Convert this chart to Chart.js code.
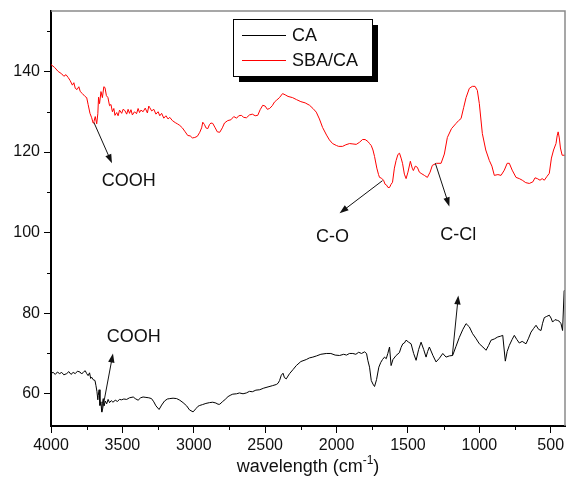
<!DOCTYPE html>
<html>
<head>
<meta charset="utf-8">
<script src="https://cdn.jsdelivr.net/npm/chart.js@4.4.0/dist/chart.umd.min.js"></script>
<style>
  body { margin: 0; background: #fff; }
  #wrap { width: 566px; height: 490px; }
</style>
</head>
<body>
<div id="wrap"><canvas id="ftirChart" width="566" height="490"></canvas></div>
<script>
// FTIR spectra, wavenumber (cm-1) vs transmittance
const waveSBA = [
  4000,3975,3950,3925,3910,3895,3880,3867,3850,3840,
  3830,3818,3805,3795,3780,3762,3750,3740,3727,3715,
  3705,3699,3690,3680,3672,3667,3660,3650,3640,3630,
  3622,3612,3601,3590,3580,3570,3560,3552,3540,3530,
  3520,3505,3495,3483,3470,3460,3450,3440,3430,3415,
  3401,3390,3380,3370,3355,3340,3325,3315,3308,3295,
  3280,3265,3250,3238,3225,3210,3195,3180,3168,3150,
  3130,3115,3098,3080,3060,3042,3025,3010,2993,2975,
  2958,2945,2937,2925,2915,2902,2890,2880,2867,2850,
  2835,2818,2800,2785,2762,2740,2720,2700,2685,2667,
  2650,2631,2610,2590,2570,2552,2535,2517,2500,2485,
  2469,2450,2435,2422,2400,2378,2360,2340,2308,2280,
  2250,2220,2189,2165,2142,2120,2098,2070,2050,2028,
  2000,1985,1958,1935,1909,1885,1862,1840,1818,1800,
  1780,1769,1757,1745,1734,1718,1706,1699,1685,1671,
  1660,1650,1640,1629,1618,1608,1595,1583,1570,1559,
  1548,1538,1525,1513,1500,1483,1470,1462,1448,1434,
  1420,1408,1385,1364,1345,1329,1300,1268,1245,1224,
  1195,1163,1145,1128,1110,1093,1070,1049,1030,1014,
  1000,979,955,930,912,895,870,848,825,805,
  790,770,743,720,699,675,650,625,610,594,
  575,560,545,525,510,495,480,463,455,448,
  440,432,420,400
];
const transSBA = [
  141.7,141.0,140.0,139.4,138.8,139.2,138.5,137.8,136.6,137.2,
  135.8,135.5,136.2,135.0,134.5,133.8,133.5,131.8,129.6,128.5,
  127.2,127.6,128.8,127.0,129.5,133.6,132.0,135.0,133.5,136.2,
  136.0,134.0,133.5,131.5,131.8,130.0,130.8,129.1,129.8,129.0,
  130.4,129.6,130.6,130.3,129.4,130.6,129.6,130.5,129.2,130.0,
  129.5,130.8,129.8,130.4,130.0,130.9,129.7,131.4,131.0,130.2,
  130.6,129.4,130.0,129.0,129.6,128.4,129.0,128.2,128.6,127.8,
  127.3,127.0,126.6,126.0,125.0,124.1,124.0,123.5,123.6,123.9,
  124.9,126.0,127.4,126.8,126.0,125.8,126.8,127.2,127.1,126.0,
  125.0,124.9,126.0,127.2,127.8,128.0,128.8,128.4,129.0,129.1,
  128.6,128.5,129.2,129.4,129.0,129.1,130.5,131.6,131.4,130.6,
  130.8,131.5,132.4,132.8,133.5,134.5,134.2,133.8,133.5,133.0,
  132.5,132.2,131.6,130.8,129.9,128.2,126.1,124.2,123.0,122.1,
  121.6,121.4,121.4,121.8,122.1,122.0,121.9,122.4,123.1,123.1,
  122.6,122.1,121.6,120.5,118.9,116.0,114.4,113.7,113.5,113.0,
  112.0,111.8,111.2,111.2,112.0,112.5,116.0,117.9,119.4,119.7,
  118.5,117.2,114.5,113.4,115.0,117.7,116.0,115.4,116.5,116.2,
  115.0,114.7,114.2,113.7,115.0,116.7,117.2,117.2,119.5,123.6,
  125.8,127.1,127.8,128.3,131.0,133.5,135.8,136.3,136.3,135.3,
  132.0,124.6,120.5,117.9,116.5,114.2,114.4,114.2,115.5,117.2,
  117.2,115.5,113.7,113.4,113.0,112.4,112.2,112.6,113.6,113.4,
  113.0,113.4,113.0,114.0,114.7,118.5,120.5,122.1,124.0,125.0,
  123.5,121.0,119.2,119.2
];
const waveCA = [
  4000,3985,3970,3955,3940,3925,3910,3890,3875,3860,
  3845,3830,3815,3797,3785,3770,3760,3750,3740,3730,
  3722,3715,3705,3692,3685,3678,3672,3669,3663,3657,
  3650,3645,3640,3634,3628,3620,3610,3600,3590,3578,
  3566,3550,3535,3520,3506,3490,3470,3450,3424,3410,
  3390,3372,3355,3335,3315,3296,3280,3265,3243,3225,
  3205,3185,3168,3145,3120,3098,3075,3050,3030,3005,
  2985,2970,2958,2940,2915,2890,2867,2845,2830,2818,
  2800,2780,2760,2740,2727,2700,2680,2655,2632,2610,
  2590,2565,2538,2510,2480,2450,2422,2410,2399,2387,
  2375,2365,2352,2340,2329,2305,2282,2250,2212,2190,
  2166,2140,2110,2072,2040,2010,1979,1950,1930,1910,
  1886,1865,1845,1825,1804,1790,1781,1769,1757,1745,
  1734,1720,1704,1690,1678,1664,1652,1641,1629,1618,
  1605,1583,1560,1548,1536,1525,1513,1495,1478,1460,
  1443,1425,1408,1390,1373,1362,1350,1325,1303,1280,
  1256,1233,1210,1187,1163,1140,1115,1093,1070,1047,
  1025,1000,975,953,935,918,895,871,850,836,
  818,805,790,770,755,738,720,700,673,655,
  638,620,603,585,568,557,545,528,510,498,
  487,470,452,440,428,417,406,400
];
const transCA = [
  65.1,65.3,64.8,65.4,65.0,65.3,64.7,65.0,65.5,64.8,
  65.3,65.0,65.6,65.4,64.9,65.5,65.7,65.0,64.5,65.2,
  63.8,64.1,63.5,63.3,62.0,60.5,58.5,59.6,61.0,57.1,
  58.0,55.5,57.5,58.8,57.0,58.2,57.5,58.6,57.8,58.3,
  57.9,58.4,58.1,58.6,58.5,58.7,58.6,59.0,59.2,58.8,
  58.4,59.0,59.2,59.1,59.0,58.8,58.0,57.0,56.1,57.2,
  58.2,58.7,58.8,58.9,58.8,58.4,57.8,57.0,56.0,55.5,
  56.3,56.9,57.1,57.3,57.6,57.8,57.9,57.7,57.4,57.4,
  58.0,58.6,59.3,59.7,59.9,60.0,60.2,60.0,60.2,60.6,
  60.5,60.9,61.0,61.4,61.7,62.0,62.3,62.6,63.3,64.6,
  65.1,64.0,63.7,64.4,65.0,66.0,67.0,68.0,68.5,68.9,
  69.1,69.4,69.8,70.0,70.0,69.6,69.5,69.8,69.6,70.0,
  70.0,69.8,70.3,70.0,70.4,70.0,68.3,66.6,63.3,62.4,
  61.8,63.5,66.6,67.8,68.5,69.1,68.7,70.0,71.6,67.0,
  68.5,69.5,70.2,71.5,72.4,72.6,73.3,72.8,72.4,70.0,
  68.3,71.0,72.8,71.0,69.1,70.5,71.6,69.5,67.9,68.8,
  70.0,69.1,69.4,69.5,71.8,74.0,76.0,77.4,76.6,74.9,
  73.8,72.4,71.6,70.8,72.0,73.3,73.6,74.1,74.3,74.5,
  68.1,70.5,72.0,73.5,74.5,73.5,72.6,73.0,72.4,73.8,
  75.3,76.2,77.0,76.0,75.7,77.5,78.9,79.2,79.5,78.8,
  77.8,78.4,78.2,78.0,77.4,75.7,85.6,85.6
];

const xTicks = [4000, 3500, 3000, 2500, 2000, 1500, 1000, 500];
const xMinorTicks = [3750, 3250, 2750, 2250, 1750, 1250, 750];
const yTicks = [60, 80, 100, 120, 140];
const yMinorTicks = [70, 90, 110, 130, 150];
const seriesLabels = ['CA', 'SBA/CA'];

// band assignments: label centre and arrow (tail -> head), in data units
const bandLabels = [
  { text: 'COOH', x: 3455, y: 112.7 },
  { text: 'C-O', x: 2028, y: 98.8 },
  { text: 'C-Cl', x: 1147, y: 99.3 },
  { text: 'COOH', x: 3420, y: 74.2 }
];
const bandArrows = [
  { x1: 3699, y1: 127.3, x2: 3573, y2: 117.2 },
  { x1: 1678, y1: 112.9, x2: 1979, y2: 104.8 },
  { x1: 1308, y1: 117.2, x2: 1210, y2: 106.5 },
  { x1: 3643, y1: 55.4, x2: 3566, y2: 70.0 },
  { x1: 1189, y1: 69.5, x2: 1147, y2: 84.4 }
];

const FONT = '"Liberation Sans", Arial, sans-serif';

function toPoints(xs, ys) {
  return xs.map((x, i) => ({ x: x, y: ys[i] }));
}

function drawArrow(ctx, x1, y1, x2, y2) {
  const ang = Math.atan2(y2 - y1, x2 - x1);
  const len = 9, half = 3.2;
  ctx.beginPath();
  ctx.moveTo(x1, y1);
  ctx.lineTo(x2 - Math.cos(ang) * len * 0.8, y2 - Math.sin(ang) * len * 0.8);
  ctx.stroke();
  ctx.beginPath();
  ctx.moveTo(x2, y2);
  ctx.lineTo(x2 - Math.cos(ang) * len - Math.sin(ang) * half, y2 - Math.sin(ang) * len + Math.cos(ang) * half);
  ctx.lineTo(x2 - Math.cos(ang) * len + Math.sin(ang) * half, y2 - Math.sin(ang) * len - Math.cos(ang) * half);
  ctx.closePath();
  ctx.fill();
}

// frame, minor ticks, legend, band labels and the axis title
const decorations = {
  id: 'decorations',
  afterDraw(chart) {
    const { ctx, chartArea: a } = chart;
    const xs = chart.scales.x, ys = chart.scales.y;
    ctx.save();

    // grey top / right frame
    ctx.strokeStyle = '#8a8a8a';
    ctx.lineWidth = 1.5;
    ctx.beginPath();
    ctx.moveTo(a.left, a.top);
    ctx.lineTo(a.right, a.top);
    ctx.lineTo(a.right, a.bottom);
    ctx.stroke();

    // minor ticks
    ctx.strokeStyle = '#000';
    ctx.lineWidth = 1;
    xMinorTicks.forEach(v => {
      const px = Math.round(xs.getPixelForValue(v)) + 0.5;
      ctx.beginPath(); ctx.moveTo(px, a.bottom); ctx.lineTo(px, a.bottom + 4); ctx.stroke();
    });
    yMinorTicks.forEach(v => {
      const py = Math.round(ys.getPixelForValue(v)) + 0.5;
      ctx.beginPath(); ctx.moveTo(a.left, py); ctx.lineTo(a.left - 4, py); ctx.stroke();
    });

    // legend box with drop shadow
    const lx = 233, ly = 19, lw = 139, lh = 57;
    ctx.fillStyle = '#000';
    ctx.fillRect(lx + 6, ly + 6, lw, lh);
    ctx.fillStyle = '#fff';
    ctx.fillRect(lx, ly, lw, lh);
    ctx.strokeStyle = '#000';
    ctx.lineWidth = 1;
    ctx.strokeRect(lx + 0.5, ly + 0.5, lw, lh);
    ctx.font = '18px ' + FONT;
    ctx.textBaseline = 'middle';
    ctx.textAlign = 'left';
    chart.data.datasets.forEach((ds, i) => {
      const yy = ly + 16 + i * 25;
      ctx.strokeStyle = ds.borderColor;
      ctx.beginPath(); ctx.moveTo(lx + 9, yy + 0.5); ctx.lineTo(lx + 53, yy + 0.5); ctx.stroke();
      ctx.fillStyle = '#111';
      ctx.fillText(ds.label, lx + 59, yy + 1);
    });

    // band labels and arrows
    ctx.fillStyle = '#111';
    ctx.textAlign = 'center';
    bandLabels.forEach(b => {
      ctx.fillText(b.text, xs.getPixelForValue(b.x), ys.getPixelForValue(b.y));
    });
    ctx.strokeStyle = '#111';
    ctx.fillStyle = '#111';
    ctx.lineWidth = 1;
    bandArrows.forEach(b => {
      drawArrow(ctx, xs.getPixelForValue(b.x1), ys.getPixelForValue(b.y1),
                xs.getPixelForValue(b.x2), ys.getPixelForValue(b.y2));
    });

    // x axis title with superscript
    const main = 'wavelength (cm', sup = '-1', close = ')';
    ctx.font = '18px ' + FONT;
    const w1 = ctx.measureText(main).width, w3 = ctx.measureText(close).width;
    ctx.font = '12px ' + FONT;
    const w2 = ctx.measureText(sup).width;
    let tx = (a.left + a.right) / 2 - (w1 + w2 + w3) / 2;
    const base = 472;
    ctx.textAlign = 'left';
    ctx.textBaseline = 'alphabetic';
    ctx.fillStyle = '#111';
    ctx.font = '18px ' + FONT;
    ctx.fillText(main, tx, base);
    ctx.font = '12px ' + FONT;
    ctx.fillText(sup, tx + w1, base - 8);
    ctx.font = '18px ' + FONT;
    ctx.fillText(close, tx + w1 + w2, base);

    ctx.restore();
  }
};

new Chart(document.getElementById('ftirChart'), {
  type: 'line',
  data: {
    datasets: [
      {
        label: seriesLabels[0],
        data: toPoints(waveCA, transCA),
        borderColor: '#000000',
        borderWidth: 1,
        pointRadius: 0,
        tension: 0
      },
      {
        label: seriesLabels[1],
        data: toPoints(waveSBA, transSBA),
        borderColor: '#ff0000',
        borderWidth: 1,
        pointRadius: 0,
        tension: 0
      }
    ]
  },
  options: {
    responsive: false,
    animation: false,
    layout: { padding: { top: 11, right: 1, bottom: 0, left: 0 } },
    plugins: {
      legend: { display: false },
      tooltip: { enabled: false }
    },
    scales: {
      x: {
        type: 'linear',
        reverse: true,
        min: 400,
        max: 4000,
        afterBuildTicks: s => { s.ticks = xTicks.map(v => ({ value: v })); },
        afterFit: s => { s.height = 64; s.paddingLeft = 0; s.paddingRight = 0; },
        grid: { drawOnChartArea: false, drawTicks: true, tickLength: 7, tickColor: '#000', tickWidth: 1 },
        border: { display: true, color: '#000', width: 2 },
        ticks: {
          color: '#111',
          font: { family: FONT, size: 16 },
          padding: 3,
          maxRotation: 0,
          autoSkip: false,
          callback: v => String(v)
        }
      },
      y: {
        min: 52,
        max: 155,
        afterBuildTicks: s => { s.ticks = yTicks.map(v => ({ value: v })); },
        afterFit: s => { s.width = 51; s.paddingTop = 0; s.paddingBottom = 0; },
        grid: { drawOnChartArea: false, drawTicks: true, tickLength: 7, tickColor: '#000', tickWidth: 1 },
        border: { display: true, color: '#000', width: 2 },
        ticks: {
          color: '#111',
          font: { family: FONT, size: 16 },
          padding: 4,
          callback: v => String(v)
        }
      }
    }
  },
  plugins: [decorations]
});
</script>
</body>
</html>
